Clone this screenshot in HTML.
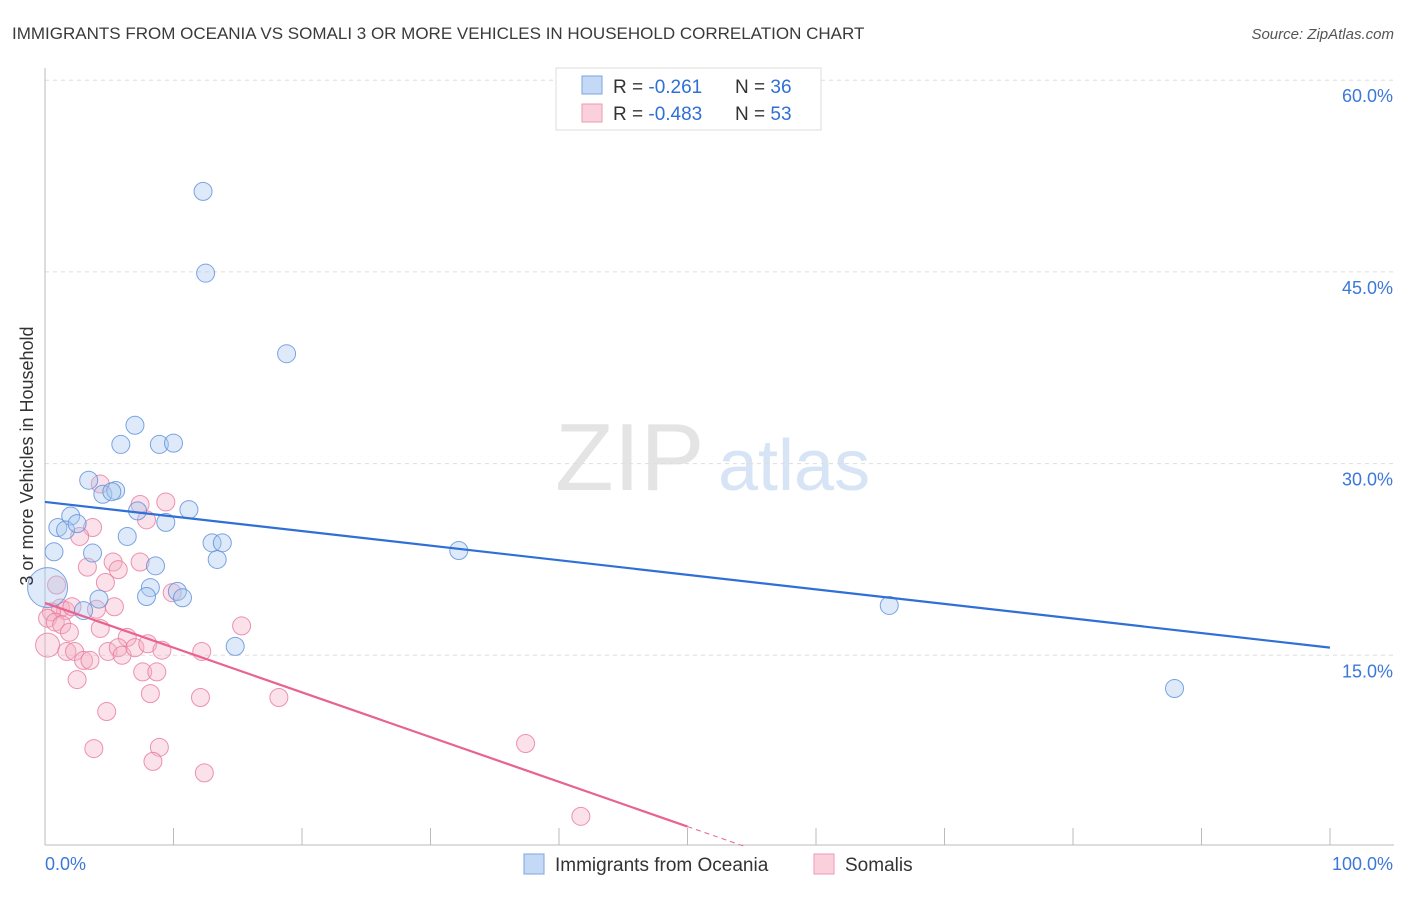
<!DOCTYPE html>
<html><head><meta charset="utf-8"><style>
body{margin:0;background:#fff;font-family:"Liberation Sans",sans-serif;}
svg text{font-family:"Liberation Sans",sans-serif;}
</style></head><body>
<svg id="chart" width="1406" height="892">
<text x="12" y="39" font-size="17" fill="#3a3a3a">IMMIGRANTS FROM OCEANIA VS SOMALI 3 OR MORE VEHICLES IN HOUSEHOLD CORRELATION CHART</text>
<text x="1394" y="39" font-size="15" fill="#555" text-anchor="end" font-style="italic">Source: ZipAtlas.com</text>
<text x="555" y="490" font-size="96" fill="#e4e4e4" font-family="Liberation Serif">ZIP</text>
<text x="718" y="490" font-size="72" fill="#d6e4f5">atlas</text>
<g id="grid"></g>
<g id="marks"></g>
<text transform="translate(33,456) rotate(-90)" font-size="18" fill="#333" text-anchor="middle">3 or more Vehicles in Household</text>
<text x="45" y="870" font-size="18" fill="#3b78d8">0.0%</text>
<text x="1393" y="870" font-size="18" fill="#3b78d8" text-anchor="end">100.0%</text>
<g>
<rect x="556" y="68" width="265" height="62" fill="#fff" stroke="#ddd"/>
<rect x="582" y="76" width="20" height="18" fill="#c4d9f5" stroke="#7aa6e0"/>
<rect x="582" y="104" width="20" height="18" fill="#fbd0dd" stroke="#ee9ab5"/>
<text x="613" y="93" font-size="19" fill="#333">R = <tspan fill="#2f6fd6">-0.261</tspan><tspan x="735">N = </tspan><tspan fill="#2f6fd6">36</tspan></text>
<text x="613" y="120" font-size="19" fill="#333">R = <tspan fill="#2f6fd6">-0.483</tspan><tspan x="735">N = </tspan><tspan fill="#2f6fd6">53</tspan></text>
</g>
<g>
<rect x="524" y="854" width="20" height="20" fill="#c4d9f5" stroke="#7aa6e0"/>
<text x="555" y="871" font-size="19" fill="#333">Immigrants from Oceania</text>
<rect x="814" y="854" width="20" height="20" fill="#fbd0dd" stroke="#ee9ab5"/>
<text x="845" y="871" font-size="19" fill="#333">Somalis</text>
</g>
</svg>
<script>
const yTicks=[15,30,45,60];
const yTickLabels=["15.0%","30.0%","45.0%","60.0%"];
const xTicks=[0,10,20,30,40,50,60,70,80,90,100];
const blueX=[12.3,12.5,18.8,7.0,5.9,8.9,10.0,3.4,4.5,5.5,5.2,7.2,2.0,11.2,1.0,1.6,2.5,9.4,6.4,13.0,13.8,0.7,3.7,13.4,32.2,8.6,8.2,7.9,10.3,10.7,4.2,3.0,14.8,65.7,87.9,0.2];
const blueY=[51.3,44.9,38.6,33.0,31.5,31.5,31.6,28.7,27.6,27.9,27.8,26.3,25.9,26.4,25.0,24.8,25.3,25.4,24.3,23.8,23.8,23.1,23.0,22.5,23.2,22.0,20.3,19.6,20.0,19.5,19.4,18.5,15.7,18.9,12.4,20.3];
const pinkX=[0.9,4.3,7.4,9.4,7.9,3.7,2.7,5.3,7.4,3.3,5.7,4.7,1.2,1.6,0.5,2.1,4.0,5.4,0.2,0.8,1.3,1.9,4.3,6.4,9.9,0.2,1.7,2.3,3.0,3.5,4.9,5.7,6.0,7.0,8.0,9.1,7.6,8.7,12.2,15.3,2.5,8.2,12.1,18.2,4.8,3.8,8.9,8.4,12.4,37.4,41.7];
const pinkY=[20.5,28.4,26.8,27.0,25.6,25.0,24.3,22.3,22.3,21.9,21.7,20.7,18.7,18.5,18.4,18.8,18.6,18.8,17.9,17.6,17.4,16.8,17.1,16.4,19.9,15.8,15.3,15.3,14.6,14.6,15.3,15.6,15.0,15.6,15.9,15.4,13.7,13.7,15.3,17.3,13.1,12.0,11.7,11.7,10.6,7.7,7.8,6.7,5.8,8.1,2.4];
const blueTrendX=[0,100];
const blueTrend=[27.0,15.6];
const pinkTrendX=[0,50];
const pinkTrend=[19.1,1.6];
const X0=45,X1=1330,Y0=847,PX=12.78;
const sx=v=>X0+(X1-X0)*v/100;
const sy=v=>Y0-v*PX;
const NS="http://www.w3.org/2000/svg";
const grid=document.getElementById('grid'),marks=document.getElementById('marks');
function mk(tag,attrs,parent){const e=document.createElementNS(NS,tag);for(const k in attrs)e.setAttribute(k,attrs[k]);parent.appendChild(e);return e;}
yTicks.forEach((t,i)=>{
 const l=mk('line',{x1:45,x2:1394,y1:sy(t),y2:sy(t),stroke:'#ddd','stroke-dasharray':'4,4'},grid);
 
 
 const tx=mk('text',{x:1393,y:sy(t)+22,'font-size':18,fill:'#3b78d8','text-anchor':'end'},grid);
 tx.textContent=yTickLabels[i];
 
 
});
const ax=mk('line',{x1:45,x2:45,y1:68,y2:845,stroke:'#bbb'},grid);


const bx=mk('line',{x1:45,x2:1394,y1:845,y2:845,stroke:'#bbb'},grid);


xTicks.forEach(t=>{
 const l=mk('line',{x1:sx(t),x2:sx(t),y1:828,y2:845,stroke:'#bbb'},grid);
 
 
});
function dot(x,y,r,fill,stroke,name){
 const c=mk('circle',{cx:sx(x),cy:sy(y),r:r,fill:fill,'fill-opacity':0.38,stroke:stroke,'stroke-opacity':0.8,'stroke-width':1},marks);
 
 
}
pinkX.forEach((x,i)=>dot(x,pinkY[i],i==25?12:9,'#f5b0c5','#e8799e','somalis-point'));
blueX.forEach((x,i)=>dot(x,blueY[i],i==35?20:9,'#a9c8f0','#5b8fd9','oceania-point'));
const bl=mk('line',{x1:sx(blueTrendX[0]),y1:sy(blueTrend[0]),x2:sx(blueTrendX[1]),y2:sy(blueTrend[1]),stroke:'#2f6fd6','stroke-width':2.2},marks);


const slope=(pinkTrend[1]-pinkTrend[0])/(pinkTrendX[1]-pinkTrendX[0]);
const zero=pinkTrendX[0]-pinkTrend[0]/slope;
const pl=mk('line',{x1:sx(pinkTrendX[0]),y1:sy(pinkTrend[0]),x2:sx(pinkTrendX[1]),y2:sy(pinkTrend[1]),stroke:'#e8638f','stroke-width':2.2},marks);


const pd=mk('line',{x1:sx(pinkTrendX[1]),y1:sy(pinkTrend[1]),x2:sx(zero),y2:sy(0),stroke:'#e8638f','stroke-width':1,'stroke-dasharray':'5,4'},marks);


</script>
</body></html>
